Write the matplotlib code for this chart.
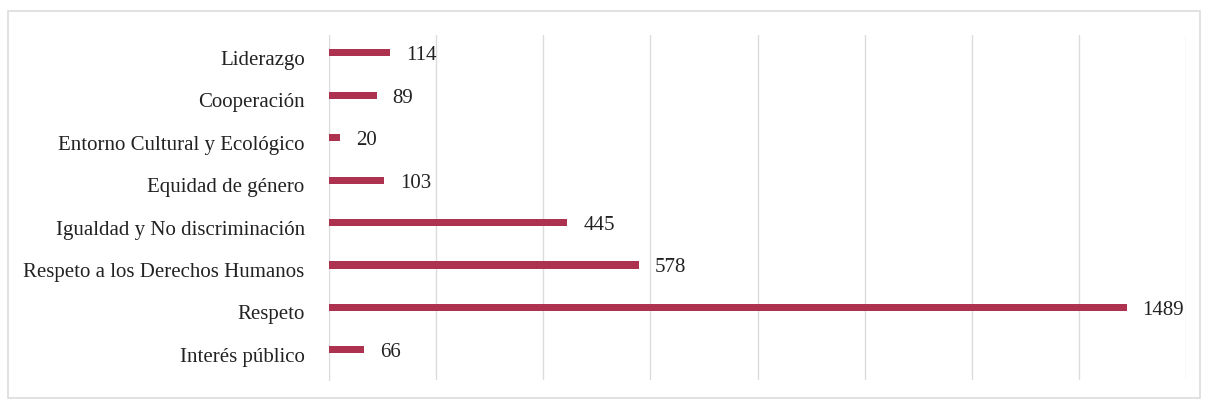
import matplotlib
matplotlib.use("Agg")
import matplotlib.pyplot as plt
from matplotlib.patches import Rectangle
from matplotlib.transforms import ScaledTranslation

categories = ["Liderazgo", "Cooperación", "Entorno Cultural y Ecológico", "Equidad de género",
              "Igualdad y No discriminación", "Respeto a los Derechos Humanos", "Respeto", "Interés público"]
values = [114, 89, 20, 103, 445, 578, 1489, 66]

plt.rcParams['font.family'] = ['Liberation Serif', 'DejaVu Serif']

fig = plt.figure(figsize=(12.07, 4.07), dpi=100)
fig.patches.append(Rectangle((0.007, 0.022), 0.987, 0.95, transform=fig.transFigure,
                             fill=False, edgecolor='#dcdcdc', linewidth=1.2))
ax = fig.add_axes([329/1207, 1-380/407, (1186-329)/1207, (380-35)/407])

y = list(range(len(categories)))
ax.barh(y, values, height=0.17, color='#ad324f', zorder=3)
ax.set_yticks(y)
ax.set_yticklabels(categories, fontsize=15, color='#222222')
ax.set_ylim(len(categories) - 1 + 0.71, -0.42)
ax.set_xlim(0, 1600)
ax.set_xticks(range(0, 1601, 200))
ax.tick_params(axis='x', bottom=False, labelbottom=False)
ax.tick_params(axis='y', left=False, pad=14)
ax.grid(axis='x', color='#dcdcdc', linewidth=1, zorder=0)
for s in ['top', 'right', 'bottom']:
    ax.spines[s].set_visible(False)
ax.spines['left'].set_color('#dcdcdc')

down = ScaledTranslation(0, -5/100, fig.dpi_scale_trans)
for lbl in ax.get_yticklabels():
    lbl.set_transform(lbl.get_transform() + down)

vdown = ScaledTranslation(0, -3/100, fig.dpi_scale_trans)
for yi, v in zip(y, values):
    ax.text(v + 30, yi, str(v), va='center', ha='left', fontsize=15, color='#222222',
            transform=ax.transData + vdown)

fig.savefig("out.png", dpi=100)
